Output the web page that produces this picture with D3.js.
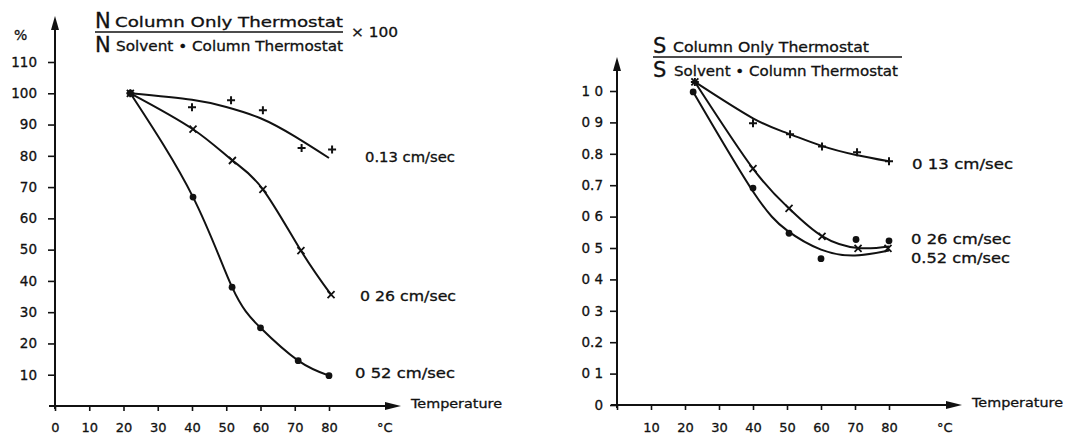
<!DOCTYPE html>
<html>
<head>
<meta charset="utf-8">
<script src="https://cdn.jsdelivr.net/npm/d3@7"></script>
<style>
body { margin: 0; background: #fff; }
svg { display: block; }
text { font-family: "DejaVu Sans", sans-serif; fill: #111; stroke: #111; stroke-width: 0.3px; }
</style>
</head>
<body>
<svg id="chart"></svg>
<script>
// ---- data ----
// left panel: N (column only) / N (solvent + column) x 100, in %
const nXTicks = [0, 10, 20, 30, 40, 50, 60, 70, 80];
const nXLabels = ["0", "10", "20", "30", "40", "50", "60", "70", "80"];
const nYTicks = [10, 20, 30, 40, 50, 60, 70, 80, 90, 100, 110];

const nT013 = [22, 40, 51.4, 60.7, 72, 80.9];
const nV013 = [100, 95.5, 97.8, 94.6, 82.5, 82];
const nCurveT013 = [22, 40, 50, 60, 70, 80];
const nCurveV013 = [100, 97.9, 95.6, 92, 86.2, 79.3];

const nT026 = [22, 40.3, 51.8, 60.7, 71.8, 80.6];
const nV026 = [100, 88.5, 78.5, 69.3, 49.7, 35.6];

const nT052 = [22, 40.3, 51.7, 60, 71, 80];
const nV052 = [100, 66.8, 38, 25, 14.5, 9.7];

// right panel: S (column only) / S (solvent + column)
const sXTicks = [0, 10, 20, 30, 40, 50, 60, 70, 80];
const sXLabels = ["", "10", "20", "30", "40", "50", "60", "70", "80"];
const sYTicks = [0, 0.1, 0.2, 0.3, 0.4, 0.5, 0.6, 0.7, 0.8, 0.9, 1.0];
const sYLabels = ["0", "0 1", "0.2", "0 3", "0 4", "0 5", "0 6", "0.7", "0.8", "0 9", "1 0"];

const sT013 = [22.9, 40, 50.9, 60.3, 70.6, 80];
const sV013 = [1.029, 0.897, 0.862, 0.823, 0.805, 0.776];
const sCurveT013 = [22.9, 40, 50, 60, 70, 80];
const sCurveV013 = [1.029, 0.913, 0.866, 0.826, 0.797, 0.776];

const sT026 = [22.9, 40, 50.6, 60.3, 70.9, 79.7];
const sV026 = [1.029, 0.753, 0.626, 0.537, 0.499, 0.499];
const sCurveT026 = [22.9, 40, 50.6, 60.3, 70.9, 80];
const sCurveV026 = [1.029, 0.753, 0.626, 0.538, 0.5, 0.505];

const sT052 = [22.4, 40, 50.6, 60, 70.3, 80];
const sV052 = [0.997, 0.691, 0.547, 0.466, 0.527, 0.523];
const sCurveT052 = [22.4, 40, 50, 60, 70, 80];
const sCurveV052 = [0.997, 0.68, 0.556, 0.495, 0.476, 0.492];

const width = 1073, height = 435;
const svg = d3.select("#chart").attr("width", width).attr("height", height);

const zip = (xs, ys) => xs.map((x, i) => ({x: x, y: ys[i]}));

function arrowHead(g, x, y, dir) {
  // dir "up" or "right"
  let pts = dir == "up"
    ? [[x, y], [x - 4, y + 14], [x + 4, y + 14]]
    : [[x, y], [x - 16, y - 4], [x - 16, y + 4]];
  g.append("path").attr("d", "M" + pts.join("L") + "Z").attr("fill", "#111");
}

function marker(g, type, x, y) {
  if (type == "dot") {
    g.append("circle").attr("cx", x).attr("cy", y).attr("r", 3.4).attr("fill", "#111");
  } else if (type == "plus") {
    g.append("path").attr("d", `M${x-4},${y}H${x+4}M${x},${y-4}V${y+4}`)
      .attr("stroke", "#111").attr("stroke-width", 2);
  } else {
    g.append("path").attr("d", `M${x-3.5},${y-3.5}L${x+3.5},${y+3.5}M${x+3.5},${y-3.5}L${x-3.5},${y+3.5}`)
      .attr("stroke", "#111").attr("stroke-width", 1.8);
  }
}

function drawPanel(p) {
  let g = svg.append("g");
  let sx = d3.scaleLinear().domain([0, 80]).range(p.xRange);
  let sy = d3.scaleLinear().domain(p.yDomain).range(p.yRange);

  // axes lines with arrows
  g.append("line").attr("x1", sx(0)).attr("x2", sx(0))
    .attr("y1", sy(0) + 3).attr("y2", p.yTop + 8)
    .attr("stroke", "#111").attr("stroke-width", 2);
  arrowHead(g, sx(0), p.yTop, "up");
  g.append("line").attr("x1", sx(0) - 6).attr("x2", p.xEnd - 8)
    .attr("y1", sy(0)).attr("y2", sy(0))
    .attr("stroke", "#111").attr("stroke-width", 2);
  arrowHead(g, p.xEnd, sy(0), "right");

  // y axis ticks
  let ay = d3.axisLeft(sy).tickValues(p.yTicks).tickSize(7).tickPadding(8)
    .tickFormat((d, i) => p.yLabels ? p.yLabels[i] : d);
  let gy = g.append("g").attr("transform", `translate(${sx(0)},0)`).call(ay);
  gy.select(".domain").remove();
  gy.selectAll("line").attr("stroke", "#111").attr("stroke-width", 1.6);
  gy.selectAll("text").style("font-size", "13.5px").style("font-family", "DejaVu Sans")
    .attr("fill", "#111").attr("x", -p.yLabelGap);

  // x axis ticks
  let ax = d3.axisBottom(sx).tickValues(p.xTicks).tickSize(5).tickPadding(p.xLabelPad)
    .tickFormat((d, i) => p.xLabels[i]);
  let gx = g.append("g").attr("transform", `translate(0,${sy(0)})`).call(ax);
  gx.select(".domain").remove();
  gx.selectAll("line").attr("stroke", "#111").attr("stroke-width", 1.6);
  gx.selectAll("text").style("font-size", "13px").style("font-family", "DejaVu Sans").attr("fill", "#111");

  g.append("text").attr("x", sx(80) + 48).attr("y", p.xLabelBase)
    .style("font-size", "13px").text("°C");
  g.append("text").attr("x", p.xEnd + 10).attr("y", sy(0) + 2)
    .style("font-size", "13px").attr("textLength", 91).attr("lengthAdjust", "spacingAndGlyphs")
    .text("Temperature");

  let line = d3.line().x(d => sx(d.x)).y(d => sy(d.y)).curve(d3.curveNatural);
  p.series.forEach(s => {
    g.append("path").datum(zip(s.curveT, s.curveV)).attr("d", line)
      .attr("fill", "none").attr("stroke", "#111").attr("stroke-width", 2);
    zip(s.t, s.v).forEach(d => marker(g, s.mark, sx(d.x), sy(d.y)));
    g.append("text").attr("x", s.labelX).attr("y", s.labelY)
      .style("font-size", "13.5px").attr("textLength", s.labelW).attr("lengthAdjust", "spacingAndGlyphs")
      .text(s.label);
  });
  return g;
}

drawPanel({
  xRange: [55, 329], yDomain: [0, 110], yRange: [406, 62], yTop: 16, xEnd: 401,
  yTicks: nYTicks, yLabels: null, yLabelGap: 18, xTicks: nXTicks, xLabels: nXLabels,
  xLabelPad: 12, xLabelBase: 432,
  series: [
    {t: nT013, v: nV013, curveT: nCurveT013, curveV: nCurveV013, mark: "plus",
     label: "0.13 cm/sec", labelX: 365, labelY: 162, labelW: 90},
    {t: nT026, v: nV026, curveT: nT026, curveV: nV026, mark: "cross",
     label: "0 26 cm/sec", labelX: 360, labelY: 301, labelW: 96},
    {t: nT052, v: nV052, curveT: nT052, curveV: nV052, mark: "dot",
     label: "0 52 cm/sec", labelX: 355, labelY: 378, labelW: 100}
  ]
});

drawPanel({
  xRange: [617, 889], yDomain: [0, 1.0], yRange: [405, 91], yTop: 57, xEnd: 962,
  yTicks: sYTicks, yLabels: sYLabels, yLabelGap: 14, xTicks: sXTicks, xLabels: sXLabels,
  xLabelPad: 13, xLabelBase: 432,
  series: [
    {t: sT013, v: sV013, curveT: sCurveT013, curveV: sCurveV013, mark: "plus",
     label: "0 13  cm/sec", labelX: 912, labelY: 169, labelW: 101},
    {t: sT026, v: sV026, curveT: sCurveT026, curveV: sCurveV026, mark: "cross",
     label: "0 26  cm/sec", labelX: 911, labelY: 244, labelW: 100},
    {t: sT052, v: sV052, curveT: sCurveT052, curveV: sCurveV052, mark: "dot",
     label: "0.52  cm/sec", labelX: 911, labelY: 263, labelW: 99}
  ]
});

// "%" unit on left y axis
svg.append("text").attr("x", 14).attr("y", 40).style("font-size", "14px").text("%");

// fraction titles
function fraction(letter, x, lineY, lineX2, numText, numW, denText, denW, bigSize) {
  let g = svg.append("g");
  g.append("line").attr("x1", x).attr("x2", lineX2).attr("y1", lineY).attr("y2", lineY)
    .attr("stroke", "#111").attr("stroke-width", 1.6);
  g.append("text").attr("x", x).attr("y", lineY - 4).style("font-size", bigSize + "px").text(letter);
  g.append("text").attr("x", x).attr("y", lineY + 20).style("font-size", bigSize + "px").text(letter);
  g.append("text").attr("x", x + 20).attr("y", lineY - 5).style("font-size", "14px")
    .attr("textLength", numW).attr("lengthAdjust", "spacingAndGlyphs").text(numText);
  g.append("text").attr("x", x + 21).attr("y", lineY + 19).style("font-size", "14px")
    .attr("textLength", denW).attr("lengthAdjust", "spacingAndGlyphs").text(denText);
  return g;
}

fraction("N", 95, 32, 343, "Column Only Thermostat", 228, "Solvent • Column Thermostat", 227, 21);
svg.append("text").attr("x", 351).attr("y", 37).style("font-size", "14px")
  .attr("textLength", 47).attr("lengthAdjust", "spacingAndGlyphs").text("× 100");

fraction("S", 653, 57, 902, "Column Only Thermostat", 196, "Solvent • Column Thermostat", 224, 21);
</script>
</body>
</html>
